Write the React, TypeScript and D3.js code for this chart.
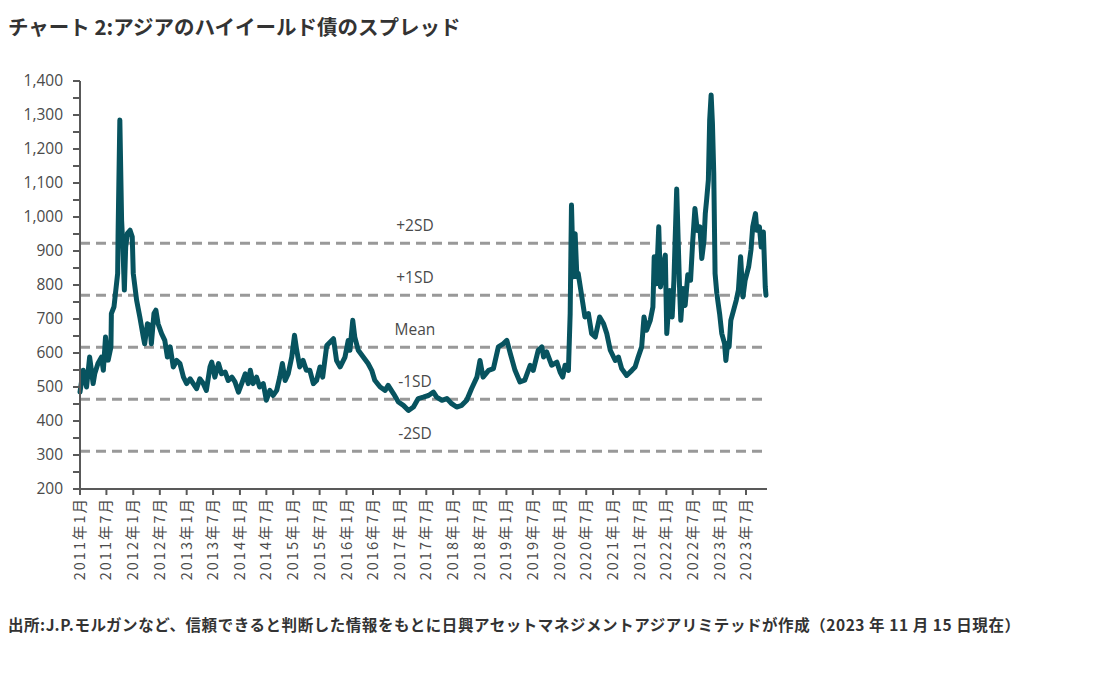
import React from "react";
import * as d3 from "d3";

const spreadSeries: [string, number][] = [
  ["2011-01-01",485],["2011-01-23",549],["2011-02-15",500],["2011-03-08",588],["2011-04-01",510],["2011-04-12",539],["2011-05-04",569],["2011-05-28",588],["2011-06-10",549],["2011-06-25",647],
  ["2011-07-13",579],["2011-08-01",618],["2011-08-04",716],["2011-08-22",736],["2011-09-01",775],["2011-09-16",834],["2011-09-19",952],["2011-10-01",1285],["2011-10-13",991],["2011-10-22",912],
  ["2011-11-01",785],["2011-11-10",912],["2011-11-22",952],["2011-12-10",961],["2011-12-25",942],["2012-01-01",834],
  ["2012-01-24",755],["2012-02-15",706],["2012-03-10",647],["2012-03-19",627],["2012-04-07",686],["2012-04-25",681],["2012-05-04",627],["2012-05-22",716],["2012-06-04",726],["2012-06-19",686],
  ["2012-07-13",657],["2012-08-04",637],["2012-08-22",588],["2012-09-10",618],["2012-10-01",559],["2012-10-25",578],["2012-11-16",569],["2012-12-10",529],["2013-01-01",510],["2013-01-25",524],
  ["2013-02-15",510],["2013-03-10",495],["2013-04-01",524],["2013-04-25",510],["2013-05-16",490],["2013-06-10",559],["2013-06-22",573],["2013-07-13",529],["2013-08-07",569],["2013-08-28",539],
  ["2013-09-22",544],["2013-10-13",519],["2013-11-07",529],["2013-11-28",515],["2013-12-22",485],["2014-01-13",510],["2014-02-07",539],["2014-02-27",510],["2014-03-13",549],["2014-04-01",510],
  ["2014-04-25",529],["2014-05-16",500],["2014-06-10",510],["2014-07-01",461],["2014-07-25",490],["2014-08-16",475],["2014-09-10",490],["2014-10-01",529],["2014-10-19",569],["2014-11-07",519],
  ["2014-11-28",539],["2014-12-22",588],["2015-01-10",652],["2015-01-25",608],["2015-02-15",559],["2015-03-10",578],["2015-04-01",549],["2015-04-25",549],["2015-05-19",510],["2015-06-10",519],
  ["2015-07-04",559],["2015-07-22",529],["2015-08-19",622],
  ["2015-10-04",642],["2015-10-25",578],["2015-11-19",559],["2015-12-22",588],["2016-01-13",637],["2016-01-25",608],["2016-02-13",696],["2016-02-27",647],["2016-03-22",608],["2016-04-25",588],
  ["2016-05-28",569],["2016-06-22",549],["2016-07-13",520],["2016-08-19",500],["2016-09-22",490],["2016-10-13",505],["2016-11-19",480],["2016-12-22",456],
  ["2017-01-25",446],["2017-03-01",431],["2017-04-04",441],["2017-05-07",466],["2017-06-10",470],["2017-07-16",475],["2017-08-19",485],["2017-09-10",470],["2017-10-16",461],["2017-11-19",466],["2017-12-22",451],
  ["2018-01-25",441],["2018-03-01",446],["2018-04-04",461],["2018-05-07",495],["2018-06-13",529],["2018-07-04",578],["2018-07-25",529],["2018-09-01",549],["2018-10-04",554],["2018-11-07",618],["2018-12-10",627],
  ["2019-01-04",637],["2019-01-28",598],["2019-03-01",549],["2019-04-04",515],["2019-05-07",520],["2019-06-13",564],["2019-07-04",549],["2019-08-07",608],["2019-09-01",618],["2019-09-13",588],["2019-10-04",603],["2019-11-07",564],["2019-12-13",573],
  ["2020-01-04",544],["2020-01-22",529],["2020-02-07",564],["2020-03-01",549],["2020-03-13",716],["2020-03-22",1035],["2020-04-04",824],["2020-04-16",951],["2020-04-28",824],["2020-05-07",834],
  ["2020-06-01",765],["2020-06-22",706],["2020-07-16",716],["2020-08-07",657],["2020-09-01",647],["2020-10-01",706],["2020-10-28",686],["2020-11-19",657],["2020-12-13",608],
  ["2021-01-16",578],["2021-02-07",588],["2021-03-01",554],["2021-04-04",534],["2021-05-10",549],["2021-06-01",559],["2021-06-22",588],["2021-07-16",618],["2021-08-01",706],["2021-08-19",667],
  ["2021-09-13",696],["2021-10-01",735],["2021-10-10",883],["2021-10-25",804],["2021-11-10",971],["2021-11-22",794],["2021-12-13",863],["2021-12-25",888],
  ["2022-01-04",657],["2022-01-25",784],["2022-02-10",706],["2022-02-22",814],["2022-03-13",1082],["2022-04-01",800],["2022-04-10",696],["2022-04-25",790],["2022-05-10",740],["2022-05-28",830],
  ["2022-06-16",814],["2022-07-01",930],["2022-07-16",1025],["2022-08-01",960],["2022-08-19",971],["2022-09-01",878],["2022-09-16",930],["2022-09-25",1010],["2022-10-04",1050],["2022-10-16",1109],
  ["2022-10-25",1285],["2022-11-04",1359],["2022-11-13",1275],["2022-11-22",1128],["2022-12-01",834],["2022-12-13",775],
  ["2023-01-01",716],["2023-01-16",657],["2023-02-04",628],["2023-02-13",578],["2023-02-25",628],["2023-03-07",618],["2023-03-19",696],["2023-04-07",726],["2023-04-25",755],["2023-05-10",785],
  ["2023-05-25",883],["2023-06-10",765],["2023-06-25",814],["2023-07-19",853],["2023-08-04",903],["2023-08-16",971],["2023-09-04",1010],["2023-09-13",961],["2023-10-01",971],["2023-10-13",912],
  ["2023-10-28",956],["2023-11-10",794],["2023-11-15",770]
];

const bandLabels = ["+2SD", "+1SD", "Mean", "-1SD", "-2SD"];
const bandValues = [923, 770, 617, 464, 311];
const yTickValues = [200, 300, 400, 500, 600, 700, 800, 900, 1000, 1100, 1200, 1300, 1400];
const titleText = "チャート 2:アジアのハイイールド債のスプレッド";
const sourceText = "出所:J.P.モルガンなど、信頼できると判断した情報をもとに日興アセットマネジメントアジアリミテッドが作成（2023 年 11 月 15 日現在）";

const W = 1114;
const H = 673;
const left = 80;
const right = 766;
const top = 81;
const bottom = 489;

export default function App() {
  const parse = d3.timeParse("%Y-%m-%d");
  const data = spreadSeries.map(([d, v]) => ({ date: parse(d) as Date, value: v }));

  const x = d3.scaleTime().domain([new Date(2011, 0, 1), new Date(2023, 10, 15)]).range([left, right]);
  const y = d3.scaleLinear().domain([200, 1400]).range([bottom, top]);

  const line = d3
    .line<{ date: Date; value: number }>()
    .x((d) => x(d.date))
    .y((d) => y(d.value));

  const xTicks = d3.timeMonth.every(6)!.range(new Date(2011, 0, 1), new Date(2023, 7, 1));
  const yMinor = d3.range(200, 1401, 50);

  const axisColor = "#595959";
  const textColor = "#4a4a4a";

  return (
    <svg
      width={W}
      height={H}
      style={{ position: "absolute", left: 0, top: 0, background: "#fff" }}
    >
      <text
        x={8}
        y={35}
        fontFamily="'Noto Sans CJK JP', sans-serif"
        fontWeight="bold"
        fontSize={20.5}
        fill="#333"
      >
        {titleText}
      </text>

      {bandValues.map((v, i) => (
        <g key={"band" + i}>
          <line
            x1={left}
            x2={762}
            y1={y(v)}
            y2={y(v)}
            stroke="#999"
            strokeWidth={3}
            strokeDasharray="10,6"
          />
          <text
            x={415}
            y={y(v) - 12}
            textAnchor="middle"
            fontFamily="'Open Sans', sans-serif"
            fontSize={15.5}
            fill={textColor}
          >
            {bandLabels[i]}
          </text>
        </g>
      ))}

      <path
        d={line(data) || ""}
        fill="none"
        stroke="#07535f"
        strokeWidth={5}
        strokeLinejoin="round"
        strokeLinecap="round"
      />

      <line x1={left} x2={left} y1={top} y2={bottom + 6} stroke={axisColor} strokeWidth={2} />
      {yMinor.map((v) => (
        <line key={"ym" + v} x1={left - 7} x2={left} y1={y(v)} y2={y(v)} stroke={axisColor} strokeWidth={2} />
      ))}
      {yTickValues.map((v) => (
        <text
          key={"yl" + v}
          x={63}
          y={y(v)}
          dy="0.35em"
          textAnchor="end"
          fontFamily="'Open Sans', sans-serif"
          fontSize={15.5}
          fill={textColor}
        >
          {d3.format(",")(v)}
        </text>
      ))}

      <line x1={left} x2={767} y1={bottom} y2={bottom} stroke={axisColor} strokeWidth={2} />
      {xTicks.map((d, i) => (
        <g key={"xt" + i}>
          <line x1={x(d)} x2={x(d)} y1={bottom} y2={bottom + 6} stroke={axisColor} strokeWidth={2} />
          <text
            transform={`translate(${x(d)},${497}) rotate(-90)`}
            textAnchor="end"
            dy="0.35em"
            fontFamily="'Noto Sans CJK JP', sans-serif"
            fontSize={14.5}
            letterSpacing={2}
            fill={textColor}
          >
            {`${d.getFullYear()}年${d.getMonth() + 1}月`}
          </text>
        </g>
      ))}

      <text
        x={8}
        y={631}
        fontFamily="'Noto Sans CJK JP', sans-serif"
        fontWeight="bold"
        fontSize={15.5}
        textLength={1012}
        lengthAdjust="spacing"
        fill="#333"
      >
        {sourceText}
      </text>
    </svg>
  );
}
